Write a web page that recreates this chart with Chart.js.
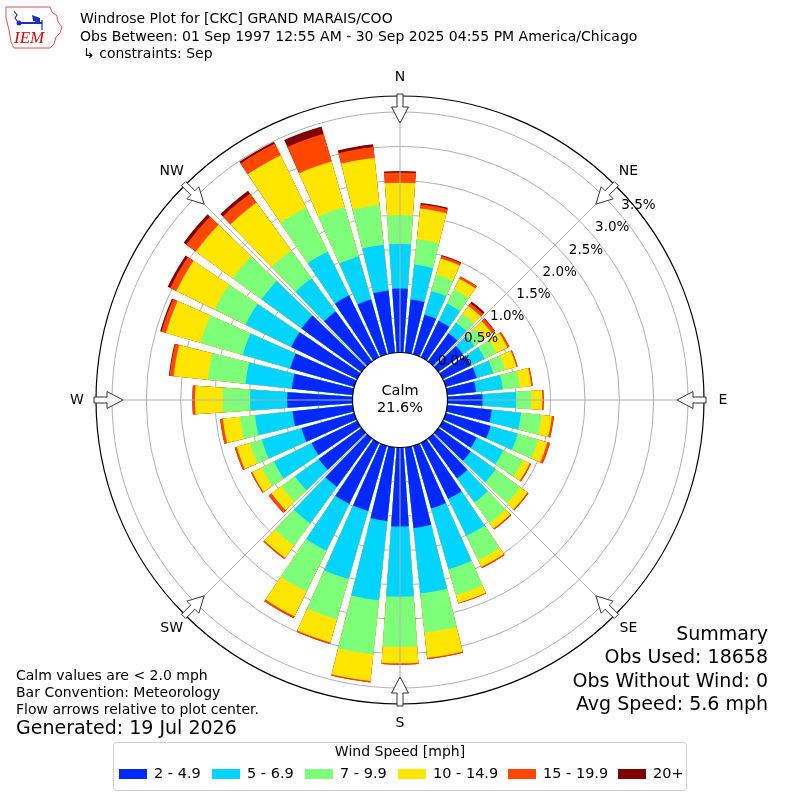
<!DOCTYPE html>
<html><head><meta charset="utf-8">
<script src="https://cdn.jsdelivr.net/npm/chart.js@4.4.0/dist/chart.umd.min.js"></script>
<style>html,body{margin:0;padding:0;background:#fff;}canvas{display:block;}</style>
</head><body>
<canvas id="c" width="800" height="800"></canvas>
<script>
// ---- data (percent of observations) ----
const directions = [0,10,20,30,40,50,60,70,80,90,100,110,120,130,140,150,160,170,180,190,200,210,220,230,240,250,260,270,280,290,300,310,320,330,340,350];
const speedBins = ['2 - 4.9','5 - 6.9','7 - 9.9','10 - 14.9','15 - 19.9','20+'];
const binColors = ['#0028ff','#00d4ff','#7dff7a','#ffe600','#ff4700','#800000'];
const pct2to5   = [0.93,0.78,0.60,0.59,0.51,0.44,0.46,0.47,0.42,0.51,0.65,0.68,0.55,0.58,0.72,0.91,0.95,1.18,1.15,1.08,0.99,0.99,0.87,0.77,0.74,0.80,0.88,0.95,0.89,0.97,1.07,1.08,0.90,1.00,0.83,0.91];
const pct5to7   = [0.65,0.51,0.36,0.28,0.19,0.21,0.22,0.25,0.39,0.49,0.43,0.41,0.43,0.45,0.43,0.60,0.92,0.96,1.02,1.16,1.03,0.76,0.66,0.43,0.61,0.60,0.55,0.54,0.68,0.72,0.74,0.72,0.60,0.71,0.65,0.67];
const pct7to10  = [0.42,0.37,0.25,0.23,0.16,0.16,0.19,0.18,0.25,0.22,0.30,0.31,0.32,0.44,0.37,0.39,0.39,0.57,0.73,0.79,0.61,0.66,0.40,0.24,0.20,0.18,0.22,0.40,0.55,0.64,0.50,0.52,0.50,0.71,0.75,0.58];
const pct10to15 = [0.47,0.45,0.24,0.17,0.14,0.15,0.18,0.17,0.17,0.16,0.15,0.14,0.11,0.13,0.10,0.11,0.12,0.37,0.24,0.39,0.35,0.40,0.22,0.18,0.15,0.20,0.25,0.40,0.50,0.52,0.62,0.66,0.86,0.85,0.69,0.69];
const pct15to20 = [0.15,0.06,0.04,0.04,0.05,0.05,0.03,0.02,0.02,0.02,0.03,0.04,0.02,0.02,0.02,0.02,0.01,0.02,0.02,0.02,0.02,0.03,0.02,0.05,0.02,0.03,0.04,0.04,0.06,0.07,0.10,0.17,0.16,0.19,0.42,0.16];
const pct20plus = [0.02,0.02,0.01,0.00,0.03,0.01,0.00,0.00,0.00,0.00,0.00,0.00,0.00,0.00,0.00,0.00,0.00,0.00,0.00,0.00,0.00,0.00,0.00,0.00,0.00,0.00,0.00,0.00,0.01,0.02,0.04,0.05,0.05,0.03,0.11,0.04];
const ringTicks = [0,0.5,1.0,1.5,2.0,2.5,3.0,3.5];
const ringLabels = ['0.0%','0.5%','1.0%','1.5%','2.0%','2.5%','3.0%','3.5%'];
const compassNames = ['N','NE','E','SE','S','SW','W','NW'];
const compassAngles = [0,45,90,135,180,225,270,315];
const calmPct = '21.6%';
const titleLines = ['Windrose Plot for [CKC] GRAND MARAIS/COO','Obs Between: 01 Sep 1997 12:55 AM - 30 Sep 2025 04:55 PM America/Chicago','\u21b3 constraints: Sep'];
const noteLines = ['Calm values are < 2.0 mph','Bar Convention: Meteorology','Flow arrows relative to plot center.'];
const generatedLine = 'Generated: 19 Jul 2026';
const summaryLines = ['Summary','Obs Used: 18658','Obs Without Wind: 0','Avg Speed: 5.6 mph'];

// ---- build stacked (cumulative) datasets ----
const series = [pct2to5,pct5to7,pct7to10,pct10to15,pct15to20,pct20plus];
const BAR_DEG = 8, GAP_DEG = 2;
const labels = directions.flatMap(d => [d + '\u00b0', '']);
const arcAngles = directions.flatMap(() => [BAR_DEG, GAP_DEG]);
const datasets = series.map((s, k) => {
  const cum = directions.map((d, i) => { let t = 0; for (let j = 0; j <= k; j++) t += series[j][i]; return +t.toFixed(3); });
  return {
    label: speedBins[k],
    data: cum.flatMap(v => [v, null]),
    angle: arcAngles,
    backgroundColor: ctx => (ctx.dataIndex % 2 === 0 ? binColors[k] : 'rgba(0,0,0,0)'),
    borderWidth: 0
  };
});

const FONT = "'DejaVu Sans', sans-serif";

const decor = {
  id: 'decor',
  afterDatasetsDraw(chart) {
    const s = chart.scales.r, ctx = chart.ctx;
    const cx = s.xCenter, cy = s.yCenter, R = s.drawingArea;
    ctx.save();
    ctx.strokeStyle = '#b0b0b0'; ctx.lineWidth = 1;
    compassAngles.forEach(b => {
      const a = b * Math.PI / 180;
      ctx.beginPath(); ctx.moveTo(cx, cy);
      ctx.lineTo(cx + R * Math.sin(a), cy - R * Math.cos(a)); ctx.stroke();
    });
    ctx.restore();
  },
  afterDraw(chart) {
    const s = chart.scales.r, ctx = chart.ctx;
    const cx = s.xCenter, cy = s.yCenter, R = s.drawingArea;
    ctx.save();
    // outer circle
    ctx.beginPath(); ctx.arc(cx, cy, R, 0, Math.PI * 2);
    ctx.strokeStyle = '#000'; ctx.lineWidth = 1.2; ctx.stroke();
    // calm circle
    const r0 = s.getDistanceFromCenterForValue(0);
    ctx.beginPath(); ctx.arc(cx, cy, r0, 0, Math.PI * 2);
    ctx.fillStyle = '#fff'; ctx.fill();
    ctx.strokeStyle = '#000'; ctx.lineWidth = 1.2; ctx.stroke();
    ctx.fillStyle = '#000'; ctx.textAlign = 'center'; ctx.textBaseline = 'middle';
    ctx.font = '14.5px ' + FONT;
    ctx.fillText('Calm', cx, cy - 9);
    ctx.fillText(calmPct, cx, cy + 8);
    // ring labels
    ctx.font = '13.5px ' + FONT;
    const la = 49.8 * Math.PI / 180;
    ringTicks.forEach((v, i) => {
      const r = s.getDistanceFromCenterForValue(v);
      ctx.fillText(ringLabels[i], cx + r * Math.sin(la) + 18.5, cy - r * Math.cos(la) - 8.3);
    });
    // arrows and compass labels
    compassAngles.forEach((b, i) => {
      const a = b * Math.PI / 180, ux = Math.sin(a), uy = -Math.cos(a), px = Math.cos(a), py = Math.sin(a);
      const pts = [[R + 2, -3], [R - 11, -3], [R - 11, -8.5], [R - 27, 0], [R - 11, 8.5], [R - 11, 3], [R + 2, 3]];
      ctx.beginPath();
      pts.forEach(([rr, w], j) => {
        const x = cx + ux * rr + px * w, y = cy + uy * rr + py * w;
        if (j) ctx.lineTo(x, y); else ctx.moveTo(x, y);
      });
      ctx.closePath(); ctx.fillStyle = '#fff'; ctx.fill();
      ctx.strokeStyle = '#333'; ctx.lineWidth = 1; ctx.stroke();
      ctx.fillStyle = '#000'; ctx.font = '14px ' + FONT;
      ctx.fillText(compassNames[i], cx + ux * 323, cy + uy * 323);
    });
    // title
    ctx.textAlign = 'left'; ctx.font = '14px ' + FONT;
    ctx.fillText(titleLines[0], 80, 19);
    ctx.fillText(titleLines[1], 80, 37);
    ctx.fillText(titleLines[2], 83, 54);
    // notes
    ctx.font = '14px ' + FONT;
    noteLines.forEach((t, i) => ctx.fillText(t, 16, 676 + i * 17));
    ctx.font = '19px ' + FONT;
    ctx.fillText(generatedLine, 16, 729);
    // summary
    ctx.textAlign = 'right';
    summaryLines.forEach((t, i) => ctx.fillText(t, 768, 635 + i * 23.5));
    // legend
    ctx.beginPath();
    ctx.roundRect(113.5, 742.5, 573, 48, 3);
    ctx.fillStyle = '#fff'; ctx.fill(); ctx.strokeStyle = '#d0d0d0'; ctx.lineWidth = 1; ctx.stroke();
    ctx.fillStyle = '#000'; ctx.textAlign = 'center'; ctx.font = '14px ' + FONT;
    ctx.fillText('Wind Speed [mph]', 400, 752);
    const lx = [119, 212, 305, 398, 508, 618];
    ctx.textAlign = 'left'; ctx.font = '14.5px ' + FONT;
    speedBins.forEach((t, i) => {
      ctx.fillStyle = binColors[i]; ctx.fillRect(lx[i], 769, 28, 10);
      ctx.fillStyle = '#000'; ctx.fillText(t, lx[i] + 35, 774);
    });
    // logo
    ctx.beginPath();
    [[6,7],[50,7],[52,12],[57,16],[58,22],[62,27],[60,33],[56,37],[54,44],[50,48],[14,48],[11,42],[9,30],[6,18]].forEach(([x,y],j)=> j?ctx.lineTo(x,y):ctx.moveTo(x,y));
    ctx.closePath(); ctx.strokeStyle = '#d9534f'; ctx.lineWidth = 1; ctx.stroke();
    ctx.strokeStyle = '#1a2fbf'; ctx.fillStyle = '#1a2fbf'; ctx.lineWidth = 2;
    ctx.beginPath(); ctx.moveTo(19, 23); ctx.lineTo(42, 23); ctx.stroke();
    ctx.beginPath(); ctx.arc(19, 23, 2.5, 0, Math.PI * 2); ctx.fill();
    ctx.lineWidth = 1.2;
    ctx.beginPath(); ctx.moveTo(14, 11); ctx.lineTo(17, 15); ctx.lineTo(15, 18); ctx.lineTo(18, 22); ctx.stroke();
    ctx.beginPath(); ctx.moveTo(32, 15); ctx.lineTo(40, 18); ctx.lineTo(40, 23); ctx.lineTo(33, 21); ctx.closePath(); ctx.fill();
    ctx.beginPath(); ctx.moveTo(42, 20); ctx.lineTo(42, 30); ctx.stroke();
    ctx.fillStyle = '#d00'; ctx.font = 'italic 17px "Liberation Serif", serif'; ctx.textAlign = 'left';
    ctx.fillText('IEM', 14, 39);
    ctx.restore();
  }
};

new Chart(document.getElementById('c'), {
  type: 'polarArea',
  data: { labels, datasets },
  options: {
    responsive: false,
    animation: false,
    events: [],
    layout: { padding: { left: 96, right: 96, top: 96, bottom: 96 } },
    plugins: { legend: { display: false }, tooltip: { enabled: false }, title: { display: false } },
    scales: {
      r: {
        type: 'radialLinear',
        min: -0.691, max: 3.732,
        startAngle: -BAR_DEG / 2,
        z: 1,
        ticks: { display: false },
        grid: { color: '#b0b0b0', lineWidth: 1, circular: true },
        angleLines: { display: false },
        pointLabels: { display: false },
        afterBuildTicks: sc => { sc.ticks = ringTicks.map(v => ({ value: v })); }
      }
    }
  },
  plugins: [decor]
});
</script>
</body></html>
